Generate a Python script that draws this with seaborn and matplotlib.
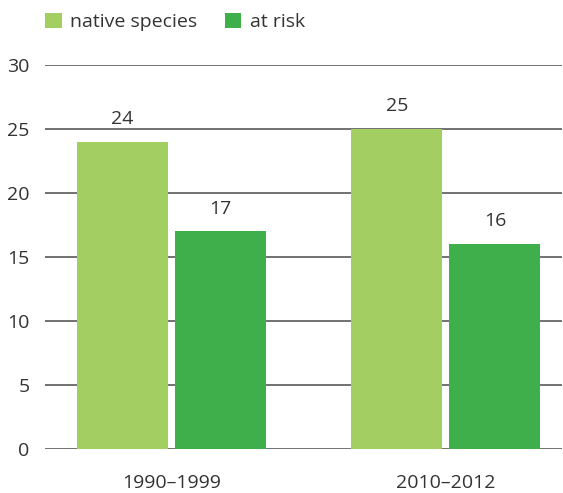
import pandas as pd
import matplotlib
matplotlib.use("Agg")
import matplotlib.pyplot as plt
import seaborn as sns

# data
periods = ["1990–1999", "2010–2012"]
series = ["native species", "at risk"]
native_species = [24, 25]
at_risk = [17, 16]
y_ticks = [0, 5, 10, 15, 20, 25, 30]

colors = ["#a3cf62", "#3faf4b"]
text_color = "#333333"

df = pd.DataFrame({
    "period": periods * 2,
    "series": [series[0]] * len(periods) + [series[1]] * len(periods),
    "value": native_species + at_risk,
})

sns.set_theme(style="white")
plt.rcParams["font.family"] = ["Open Sans", "DejaVu Sans"]

fig = plt.figure(figsize=(5.63, 4.93), dpi=100)
ax = fig.add_axes([0.0799, 0.0892, 0.9183, 0.779])

sns.barplot(data=df, x="period", y="value", hue="series", palette=colors,
            width=0.714, gap=0.0714, saturation=1, linewidth=0,
            ax=ax, zorder=3)

for cont in ax.containers:
    ax.bar_label(cont, padding=10, fontsize=14, color=text_color)

ax.set_ylim(0, 30)
ax.set_xlim(-0.461, 1.423)
ax.set_yticks(y_ticks)
for t in y_ticks:
    ax.axhline(t, color="#5a5a5a", lw=1.2, zorder=1)

for s in ax.spines.values():
    s.set_visible(False)
ax.tick_params(axis="both", length=0, labelsize=14, labelcolor=text_color)
ax.tick_params(axis="y", pad=11)
ax.tick_params(axis="x", pad=18)
ax.set_xlabel("")
ax.set_ylabel("")

handles, labels = ax.get_legend_handles_labels()
ax.legend(handles, labels, loc="center left", bbox_to_anchor=(0.08, 0.955),
          bbox_transform=fig.transFigure, ncol=2, frameon=False,
          fontsize=14, labelcolor=text_color, handlelength=0.85,
          handleheight=0.85, handletextpad=0.45, columnspacing=1.4,
          borderpad=0, borderaxespad=0)

fig.savefig("out.png", dpi=100)
